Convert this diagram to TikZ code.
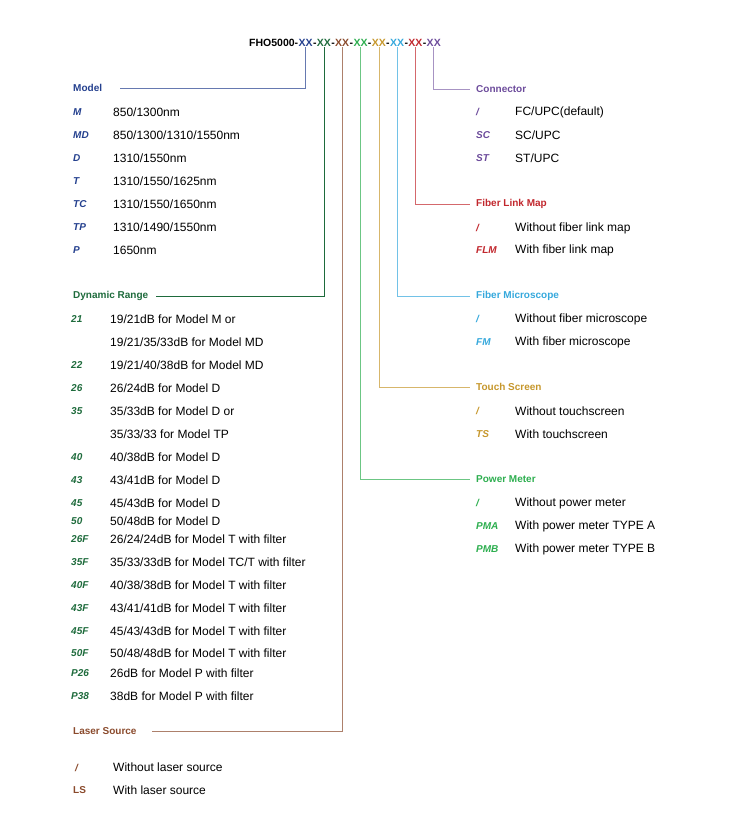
\documentclass[tikz,border=0pt]{standalone}
\usepackage{fontspec}
\setmainfont{Liberation Sans}
\usetikzlibrary{positioning}
\definecolor{cModel}{HTML}{24408E}
\definecolor{cRange}{HTML}{1E6B3C}
\definecolor{cLaser}{HTML}{8A4A2C}
\definecolor{cPower}{HTML}{2DAE4F}
\definecolor{cTouch}{HTML}{C6972C}
\definecolor{cMicro}{HTML}{35A8DC}
\definecolor{cLink}{HTML}{C1272D}
\definecolor{cConn}{HTML}{6C4B9B}

\begin{document}
\begin{tikzpicture}[
    x=1pt, y=-1pt,
    every node/.style={inner sep=0pt, anchor=west, font=\fontsize{12}{14}\selectfont},
    title/.style={font=\fontsize{10}{12}\selectfont\bfseries},
    code/.style={font=\fontsize{10}{12}\selectfont\bfseries\itshape},
    part/.style={anchor=base west, font=\fontsize{10.5}{12}\selectfont\bfseries},
    lead/.style={line width=0.6pt}
]
    \useasboundingbox (0,0) rectangle (739,832);

    % Part number
    \node[part] (fho) at (249,47) {FHO5000-};
    \node[part, text=cModel, right=0pt of fho.base east, anchor=base west] (xmodel) {XX};
    \node[part, right=0pt of xmodel.base east, anchor=base west] (d1) {-};
    \node[part, text=cRange, right=0pt of d1.base east, anchor=base west] (xrange) {XX};
    \node[part, right=0pt of xrange.base east, anchor=base west] (d2) {-};
    \node[part, text=cLaser, right=0pt of d2.base east, anchor=base west] (xlaser) {XX};
    \node[part, right=0pt of xlaser.base east, anchor=base west] (d3) {-};
    \node[part, text=cPower, right=0pt of d3.base east, anchor=base west] (xpower) {XX};
    \node[part, right=0pt of xpower.base east, anchor=base west] (d4) {-};
    \node[part, text=cTouch, right=0pt of d4.base east, anchor=base west] (xtouch) {XX};
    \node[part, right=0pt of xtouch.base east, anchor=base west] (d5) {-};
    \node[part, text=cMicro, right=0pt of d5.base east, anchor=base west] (xmicro) {XX};
    \node[part, right=0pt of xmicro.base east, anchor=base west] (d6) {-};
    \node[part, text=cLink, right=0pt of d6.base east, anchor=base west] (xlink) {XX};
    \node[part, right=0pt of xlink.base east, anchor=base west] (d7) {-};
    \node[part, text=cConn, right=0pt of d7.base east, anchor=base west] (xconn) {XX};

    % Model
    \node[title, text=cModel] (model) at (73,88) {Model};
    \foreach \c/\t [count=\i] in {M/850\slash 1300nm, MD/850\slash 1300\slash 1310\slash 1550nm,
        D/1310\slash 1550nm, T/1310\slash 1550\slash 1625nm, TC/1310\slash 1550\slash 1650nm,
        TP/1310\slash 1490\slash 1550nm, P/1650nm} {
        \node[code, text=cModel] (mc\i) at (73,89+23*\i) {\c};
        \node (mt\i) at (113,89+23*\i) {\t};
    }

    % Dynamic Range
    \node[title, text=cRange] (range) at (73,296) {Dynamic Range};
    \foreach \y/\c/\t [count=\i] in {319/21/19\slash 21dB for Model M or,
        342//19\slash 21\slash 35\slash 33dB for Model MD,
        365/22/19\slash 21\slash 40\slash 38dB for Model MD,
        388/26/26\slash 24dB for Model D,
        411/35/35\slash 33dB for Model D or,
        434//35\slash 33\slash 33 for Model TP,
        457/40/40\slash 38dB for Model D,
        480/43/43\slash 41dB for Model D,
        503/45/45\slash 43dB for Model D,
        521/50/50\slash 48dB for Model D,
        539/26F/26\slash 24\slash 24dB for Model T with filter,
        562/35F/35\slash 33\slash 33dB for Model TC\slash T with filter,
        585/40F/40\slash 38\slash 38dB for Model T with filter,
        608/43F/43\slash 41\slash 41dB for Model T with filter,
        631/45F/45\slash 43\slash 43dB for Model T with filter,
        653/50F/50\slash 48\slash 48dB for Model T with filter,
        673/P26/26dB for Model P with filter,
        696/P38/38dB for Model P with filter} {
        \node[code, text=cRange] (rc\i) at (71,\y) {\c};
        \node (rt\i) at (110,\y) {\t};
    }

    % Laser Source
    \node[title, text=cLaser] (laser) at (73,731) {Laser Source};
    \node[code, text=cLaser] (lc1) at (75,768) {/};
    \node (lt1) at (113,767) {Without laser source};
    \node[title, text=cLaser] (lc2) at (73,790) {LS};
    \node (lt2) at (113,790) {With laser source};

    % Connector
    \node[title, text=cConn] (conn) at (476,89) {Connector};
    \foreach \c/\t [count=\i] in {\slash/FC\slash UPC(default), SC/SC\slash UPC, ST/ST\slash UPC} {
        \node[code, text=cConn] (cc\i) at (476,89+23*\i) {\c};
        \node (ct\i) at (515,89+23*\i) {\t};
    }

    % Fiber Link Map
    \node[title, text=cLink] (link) at (476,204) {Fiber Link Map};
    \node[code, text=cLink] (kc1) at (476,228) {/};
    \node (kt1) at (515,228) {Without fiber link map};
    \node[code, text=cLink] (kc2) at (476,250) {FLM};
    \node (kt2) at (515,250) {With fiber link map};

    % Fiber Microscope
    \node[title, text=cMicro] (micro) at (476,296) {Fiber Microscope};
    \node[code, text=cMicro] (fc1) at (476,319) {/};
    \node (ft1) at (515,319) {Without fiber microscope};
    \node[code, text=cMicro] (fc2) at (476,342) {FM};
    \node (ft2) at (515,342) {With fiber microscope};

    % Touch Screen
    \node[title, text=cTouch] (touch) at (476,387) {Touch Screen};
    \node[code, text=cTouch] (tc1) at (476,411) {/};
    \node (tt1) at (515,411) {Without touchscreen};
    \node[code, text=cTouch] (tc2) at (476,434) {TS};
    \node (tt2) at (515,434) {With touchscreen};

    % Power Meter
    \node[title, text=cPower] (power) at (476,479) {Power Meter};
    \node[code, text=cPower] (pc1) at (476,503) {/};
    \node (pt1) at (515,503) {Without power meter};
    \node[code, text=cPower] (pc2) at (476,526) {PMA};
    \node (pt2) at (515,526) {With power meter TYPE A};
    \node[code, text=cPower] (pc3) at (476,549) {PMB};
    \node (pt3) at (515,549) {With power meter TYPE B};

    % Leader lines
    \draw[lead, cModel!70] (xmodel.south) |- ([xshift=18pt]model.east);
    \draw[lead, cRange] (xrange.south) |- ([xshift=8pt]range.east);
    \draw[lead, cLaser!70] (xlaser.south) |- ([xshift=15pt]laser.east);
    \draw[lead, cPower!70] (xpower.south) |- ([xshift=-6pt]power.west);
    \draw[lead, cTouch!70] (xtouch.south) |- ([xshift=-6pt]touch.west);
    \draw[lead, cMicro!70] (xmicro.south) |- ([xshift=-6pt]micro.west);
    \draw[lead, cLink!70] (xlink.south) |- ([xshift=-6pt]link.west);
    \draw[lead, cConn!60] (xconn.south) |- ([xshift=-6pt]conn.west);
\end{tikzpicture}
\end{document}
